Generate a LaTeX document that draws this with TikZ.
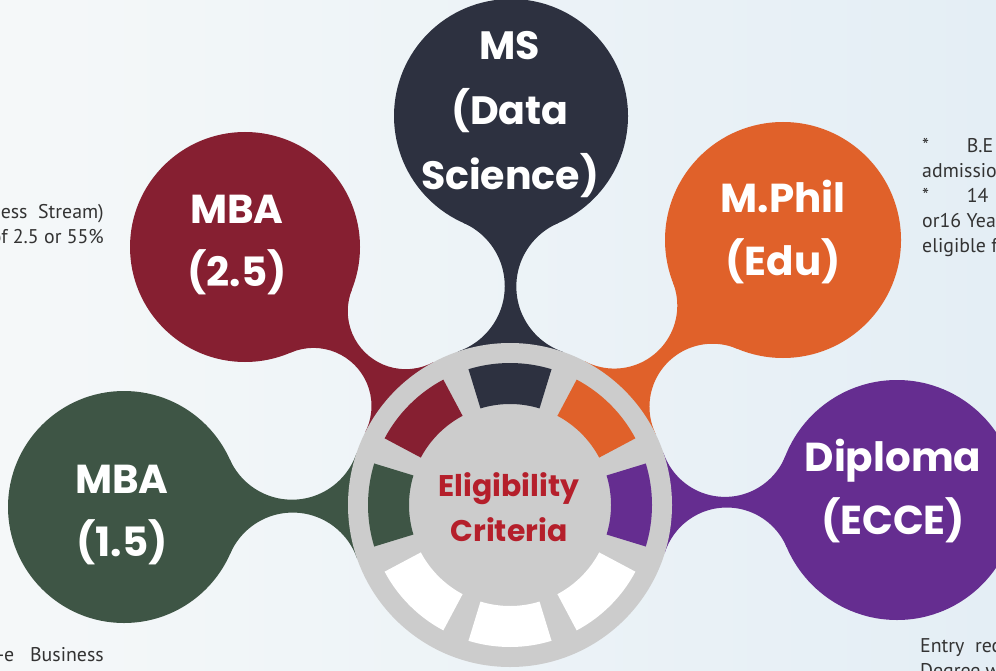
\documentclass[tikz,border=0pt]{standalone}
\usepackage{fontspec}
\setmainfont{PT Sans}
\newfontfamily\popfont{Poppins}
\usetikzlibrary{calc,intersections}
\definecolor{msc}{HTML}{2D3140}
\definecolor{mbaac}{HTML}{861F31}
\definecolor{mphc}{HTML}{E0612A}
\definecolor{mbabc}{HTML}{3E5545}
\definecolor{dipc}{HTML}{652D90}
\definecolor{hubc}{HTML}{CCCCCC}
\definecolor{critc}{HTML}{B51F2B}
\definecolor{bgl}{HTML}{F5F8F9}
\definecolor{bgr}{HTML}{E4EEF5}
\tikzset{
  bubtext/.style={text=white, align=center, font=\popfont\bfseries\fontsize{23}{36}\selectfont},
  hubtext/.style={text=critc, align=center, font=\popfont\bfseries\fontsize{17}{25.5}\selectfont},
  note/.style={text=black!80, font=\fontsize{11.3}{14.2}\selectfont},
}
\begin{document}
\begin{tikzpicture}[x=0.02cm,y=0.02cm]
        \useasboundingbox (0,0) rectangle (996,670);
        \clip (0,0) rectangle (996,670);
        \shade[left color=bgl, right color=bgr] (0,0) rectangle (996,670);

        \coordinate (hub) at (510,165);
        \coordinate (ms) at (511,554);
        \coordinate (mbaa) at (245,423);
        \coordinate (mph) at (783,430);
        \coordinate (mbab) at (124,163);
        \coordinate (dip) at (897,170);

        % necks
        \foreach \b/\r/\f/\c in {ms/117/69/msc, mbaa/115/58/mbaac, mph/118/63/mphc, mbab/116/68/mbabc, dip/120/65/dipc}{
            \path[name path=pa] (\b) circle[radius=\r+\f];
            \path[name path=pb] (hub) circle[radius=162+\f];
            \path[name intersections={of=pa and pb, by={f1,f2}}];
            \begin{scope}[even odd rule]
                \clip (-500,-500) rectangle (1500,1200)
                    (f1) circle[radius=\f] (f2) circle[radius=\f];
                \fill[\c] (\b) -- (f1) -- (hub) -- (f2) -- cycle;
            \end{scope}
        }
        \foreach \b/\r/\c in {ms/117/msc, mbaa/115/mbaac, mph/118/mphc, mbab/116/mbabc, dip/120/dipc}
            \fill[\c] (\b) circle[radius=\r];

        % wheel
        \fill[hubc] (hub) circle[radius=162];
        \foreach \a/\c in {90/msc, 135/mbaac, 45/mphc, 180/mbabc, 0/dipc, 225/white, 270/white, 315/white}
            \fill[\c] ($(hub)+({\a-17}:142)$) arc[start angle=\a-17, end angle=\a+17, radius=142]
                -- ($(hub)+({\a+17}:101)$) arc[start angle=\a+17, end angle=\a-17, radius=101] -- cycle;

        \node[bubtext, font=\popfont\bfseries\fontsize{22.5}{37}\selectfont] (mstext) at (510,555) {MS\\(Data\\Science)};
        \node[bubtext] (mbaatext) at (237,425) {MBA\\(2.5)};
        \node[bubtext] (mphtext) at (783,438) {M.Phil\\(Edu)};
        \node[bubtext] (mbabtext) at (122,155) {MBA\\(1.5)};
        \node[bubtext] (diptext) at (893,179) {Diploma\\(ECCE)};
        \node[hubtext] (crit) at (509,163) {Eligibility\\Criteria};

        \node[note, anchor=east, align=right] (lnote) at (110,446) {ess\ \ Stream)\\of 2.5 or 55\%};
        \node[note, anchor=north west, align=left] (rnote) at (916,538)
            {*\hspace{1.9em}B.E\\admissio\\*\hspace{1.9em}14\\or16 Yea\\eligible f};
        \node[note, anchor=east] (blnote) at (110,15) {-e\ \ \ Business};
        \node[note, anchor=north west, align=left] (brnote) at (914,38) {Entry\ \ rec\\Degree w};
\end{tikzpicture}
\end{document}
